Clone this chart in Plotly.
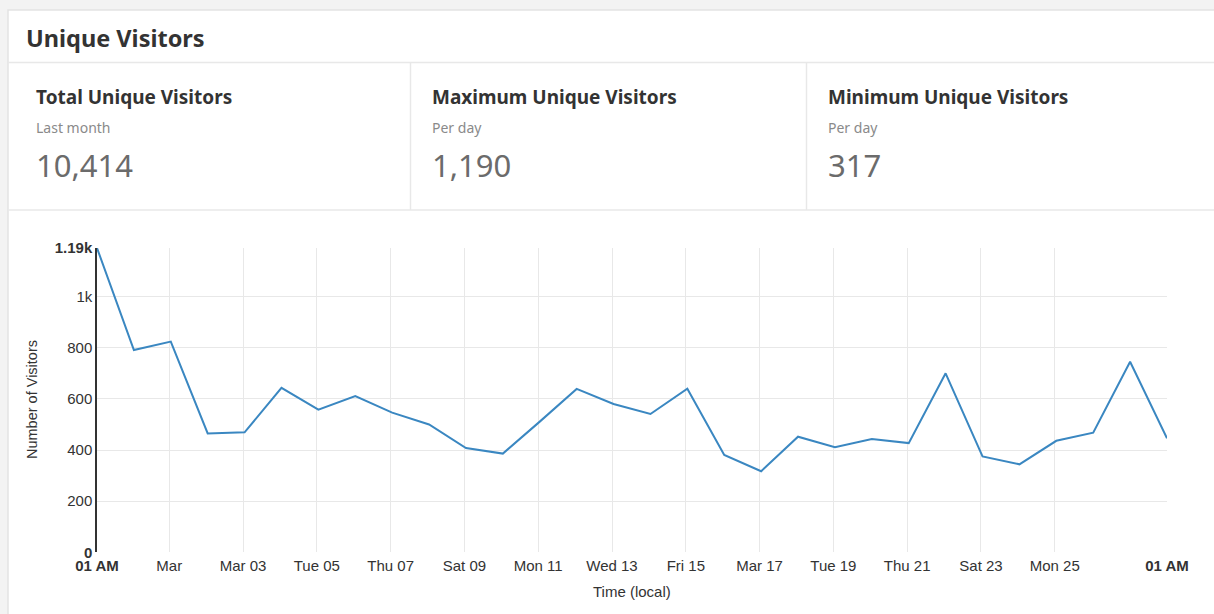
import pandas as pd
import plotly.graph_objects as go

# ---------------- data ----------------
dates = pd.date_range("2019-02-27 01:00", periods=30, freq="D")
visitors = [1190, 791, 824, 465, 469, 643, 558, 611, 546, 500,
            408, 386, 511, 639, 580, 541, 640, 381, 317, 452,
            411, 443, 427, 700, 375, 344, 436, 468, 745, 446]

grid_dates = ["2019-03-01", "2019-03-03", "2019-03-05", "2019-03-07", "2019-03-09",
              "2019-03-11", "2019-03-13", "2019-03-15", "2019-03-17", "2019-03-19",
              "2019-03-21", "2019-03-23", "2019-03-25"]
grid_labels = ["Mar", "Mar 03", "Tue 05", "Thu 07", "Sat 09", "Mon 11", "Wed 13",
               "Fri 15", "Mar 17", "Tue 19", "Thu 21", "Sat 23", "Mon 25"]
edge_label = "01 AM"

y_grid = [0, 200, 400, 600, 800, 1000]
y_labels = ["0", "200", "400", "600", "800", "1k"]
y_max = 1190
y_max_label = "1.19k"

panel_title = "Unique Visitors"
stat_titles = ["Total Unique Visitors", "Maximum Unique Visitors", "Minimum Unique Visitors"]
stat_subs = ["Last month", "Per day", "Per day"]
stat_values = ["10,414", "1,190", "317"]

# ---------------- layout helpers ----------------
W, H = 1214, 614
def fx(p):
    return p / W
def fy(p):
    return 1 - p / H

x_start, x_end = dates[0], dates[-1]
xdom = [fx(97), fx(1167)]
ydom = [fy(552.3), fy(248)]

fig = go.Figure()
# invisible trace on the gridline axes
fig.add_trace(go.Scatter(x=dates, y=visitors, xaxis="x", yaxis="y", mode="lines",
                         line=dict(color="rgba(0,0,0,0)"), hoverinfo="skip", showlegend=False))
# main series on labelled axes
fig.add_trace(go.Scatter(x=dates, y=visitors, xaxis="x2", yaxis="y2", mode="lines",
                         line=dict(color="#3a87c1", width=2), showlegend=False,
                         name="Unique Visitors"))

tick_font = dict(family="Liberation Sans, Arial, sans-serif", size=15, color="#333333")

fig.update_layout(
    template="none",
    width=W, height=H,
    margin=dict(l=0, r=0, t=0, b=0, pad=0, autoexpand=False),
    paper_bgcolor="#f3f3f3",
    plot_bgcolor="rgba(0,0,0,0)",
    xaxis=dict(type="date", domain=xdom, range=[x_start, x_end], anchor="y",
               tickmode="array", tickvals=grid_dates, showticklabels=False,
               showgrid=True, gridcolor="#e8e8e8", gridwidth=1, zeroline=False,
               showline=False, ticks="", automargin=False),
    yaxis=dict(domain=ydom, range=[0, y_max], anchor="x",
               tickmode="array", tickvals=y_grid, showticklabels=False,
               showgrid=True, gridcolor="#e8e8e8", gridwidth=1, zeroline=False,
               showline=False, ticks="", automargin=False),
    xaxis2=dict(type="date", domain=xdom, range=[x_start, x_end], anchor="y2",
                overlaying="x", tickmode="array",
                tickvals=[x_start] + grid_dates + [x_end],
                ticktext=["<b>%s</b>" % edge_label] + grid_labels + ["<b>%s</b>" % edge_label],
                showgrid=False, zeroline=False, showline=False, ticks="",
                ticklabelstandoff=3, tickfont=tick_font, automargin=False),
    yaxis2=dict(domain=ydom, range=[0, y_max], anchor="x2", overlaying="y",
                tickmode="array", tickvals=y_grid + [y_max],
                ticktext=["<b>0</b>"] + y_labels[1:] + ["<b>%s</b>" % y_max_label],
                showgrid=False, zeroline=False, showline=True, linecolor="#333333",
                linewidth=1.5, ticks="", tickfont=tick_font, automargin=False),
    hovermode="x",
)

shapes = []
# white card
shapes.append(dict(type="rect", xref="paper", yref="paper", x0=fx(8), x1=fx(1220),
                   y0=fy(620), y1=fy(10), fillcolor="white",
                   line=dict(color="#e3e3e3", width=1.5), layer="below"))
# separators
shapes.append(dict(type="line", xref="paper", yref="paper", x0=fx(8), x1=fx(1214),
                   y0=fy(62.5), y1=fy(62.5), line=dict(color="#e8e8e8", width=1.5)))
shapes.append(dict(type="line", xref="paper", yref="paper", x0=fx(8), x1=fx(1214),
                   y0=fy(210), y1=fy(210), line=dict(color="#e8e8e8", width=1.5)))
for xv in [410.5, 806.5]:
    shapes.append(dict(type="line", xref="paper", yref="paper", x0=fx(xv), x1=fx(xv),
                       y0=fy(62.5), y1=fy(210), line=dict(color="#e8e8e8", width=1.5)))
fig.update_layout(shapes=shapes)

ann = []
head_font = "Noto Sans, Open Sans, sans-serif"
ann.append(dict(text="<b>%s</b>" % panel_title, xref="paper", yref="paper",
                x=fx(24), y=fy(38), xanchor="left", yanchor="middle", showarrow=False,
                font=dict(family=head_font, size=23.5, color="#333333")))
for i, cx in enumerate([35, 431, 827]):
    ann.append(dict(text="<b>%s</b>" % stat_titles[i], xref="paper", yref="paper",
                    x=fx(cx - 1), y=fy(97), xanchor="left", yanchor="middle", showarrow=False,
                    font=dict(family=head_font, size=19, color="#333333")))
    ann.append(dict(text=stat_subs[i], xref="paper", yref="paper",
                    x=fx(cx - 1), y=fy(127.5), xanchor="left", yanchor="middle", showarrow=False,
                    font=dict(family=head_font, size=14, color="#8a8a8a")))
    ann.append(dict(text=stat_values[i], xref="paper", yref="paper",
                    x=fx(cx - 1), y=fy(165), xanchor="left", yanchor="middle", showarrow=False,
                    font=dict(family=head_font, size=31, color="#6b6b6b")))
# axis titles
ann.append(dict(text="Number of Visitors", xref="paper", yref="paper",
                x=fx(32), y=fy(400), xanchor="center", yanchor="middle", textangle=-90,
                showarrow=False, font=dict(family="Liberation Sans, Arial, sans-serif",
                                           size=14.5, color="#333333")))
ann.append(dict(text="Time (local)", xref="paper", yref="paper",
                x=fx(632), y=fy(591), xanchor="center", yanchor="middle",
                showarrow=False, font=dict(family="Liberation Sans, Arial, sans-serif",
                                           size=15, color="#333333")))
fig.update_layout(annotations=ann)

fig.write_html("out.html",
               config={"displayModeBar": False},
               post_script="document.body.style.margin='0px';"
                           "document.body.style.overflow='hidden';")
